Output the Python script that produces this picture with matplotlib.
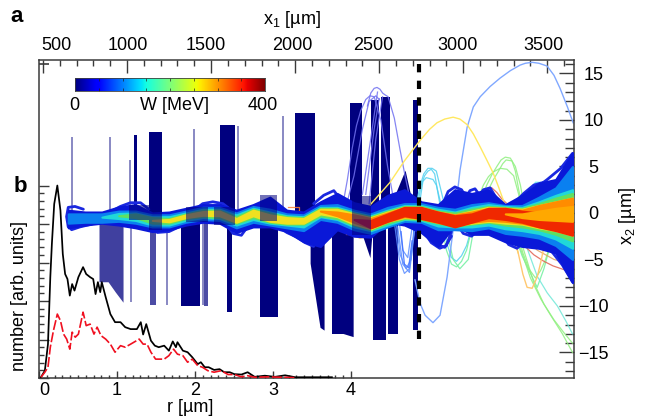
import numpy as np
import matplotlib
matplotlib.use('Agg')
import matplotlib.pyplot as plt
from matplotlib.ticker import FixedLocator

plt.rcParams['font.family'] = ['Liberation Sans', 'DejaVu Sans']
plt.rcParams['mathtext.default'] = 'regular'

nan = float('nan')

# spectrum panel b
r_black = [.025, .075, .115, .145, .165, .195, .235, .275, .305, .335, .365, .395, .425, .455, .505, .565, .605, .655, .695, .725, .755, .785, .805, .855, .915, .975, 1.045, 1.105, 1.175, 1.255, 1.305, 1.335, 1.375, 1.435, 1.485, 1.535, 1.605, 1.665, 1.715, 1.755, 1.775, 1.845, 1.905, 1.965, 2.035, 2.075, 2.125, 2.175, 2.245, 2.315, 2.375, 2.445, 2.505, 2.595, 2.675, 2.765, 2.895, 3.025, 3.155, 3.285, 3.755]
n_black = [.02, .19, .88, 2.62, 3.48, 4.52, 5.0, 4.35, 3.22, 2.70, 2.57, 2.14, 2.44, 2.27, 2.62, 2.88, 2.70, 2.62, 2.57, 2.18, 2.49, 2.23, 2.49, 2.10, 1.66, 1.45, 1.45, 1.32, 1.27, 1.27, 1.45, 1.13, 1.40, .97, .84, .80, .84, .71, .95, .80, .93, .71, .67, .54, .36, .41, .28, .28, .21, .23, .15, .15, .10, .09, .15, .03, .06, .03, .07, .02, .02]
r_red = [.025, .075, .115, .145, .185, .235, .275, .315, .355, .395, .425, .465, .505, .565, .605, .655, .705, .745, .795, .855, .915, .975, 1.045, 1.105, 1.175, 1.285, 1.335, 1.385, 1.435, 1.495, 1.605, 1.665, 1.725, 1.775, 1.845, 1.905, 1.965, 2.035, 2.095, 2.165, 2.245, 2.335, 2.425, 2.505, 2.595, 2.675, 2.765, 2.935, 3.285]
n_red = [.02, .15, .28, .80, 1.23, 1.66, 1.49, 1.14, 1.01, .75, 1.19, 1.06, 1.14, 1.71, 1.36, 1.40, 1.14, 1.32, 1.10, 1.01, .88, .67, .84, .80, .88, 1.01, .88, .88, .67, .49, .49, .58, .75, .62, .58, .41, .49, .32, .28, .19, .15, .19, .09, .09, .03, .06, .02, .03, .01]

# low energy electrons that leave the bundle: dark blocks
solid_left = [1041, 1131, 1553, 1999, 2327, 2452, 2511, 2702, 1321, 1595, 1791, 2220, 2463, 2553]
solid_right = [1060, 1208, 1642, 2118, 2398, 2499, 2565, 2731, 1434, 1625, 1898, 2345, 2541, 2612]
solid_top = [8.4, 8.7, 9.5, 10.8, 11.8, 12.2, 12.5, 12.2, 0, 0, 0, 0, 0, 0]
solid_bottom = [0, 0, 0, 0, 0, 0, 0, -12.6, -10, -10.6, -11.2, -13, -13.7, -13]

haze_left = [1137, 1460]
haze_right = [1172, 1480]
haze_bottom = [-9.9, -10]

wedge_x = [833, 887, 930, 976]
wedge_low = [-7.4, -7.4, -8.5, -9.6]

faint_x = [673, 899, 1018, 1398, 1928, 1660, 1025, 1238, 1452, 1610, 2290]
faint_top = [8.2, 8.2, 5.7, 9.0, 10.4, 9.4, 0, 0, 0, 0, 0]
faint_bottom = [0, 0, 0, 0, 0, 0, -9.6, -9.9, -9.9, -10.6, -1]

slant_x = [2089, 2148, 2172]
slant_low = [-5.4, -12.3, -12.6]
block_x = [2220, 2345]
block_low = [-12.6, -13.3]
tri_low_x = [2374, 2445, 2463]
tri_low = [-1, -4.8, -1]
tri_up_x = [2583, 2654, 2696]
tri_up = [1.5, 4.6, 1.2]

knot_left = [1010, 1130, 1350, 1520, 1790, 2340]
knot_right = [1130, 1210, 1480, 1640, 1890, 2450]
knot_top = [.9, .6, .6, .6, 1.9, 1.8]
knot_bottom = [-.8, -1.8, -1, -1.3, -.9, -2.4]

# beam bundle, edges of each energy band along x1
x1_grid = [650, 750, 850, 950, 1050, 1150, 1250, 1350, 1450, 1550, 1650, 1750, 1850, 1950, 2050, 2150, 2250, 2350, 2450, 2550, 2650, 2750, 2850, 2950, 3050, 3150, 3250, 3350, 3450, 3550, 3650]
blue_top = [.3, .1, .1, .65, .9, 0, .1, .5, .9, .9, .3, .9, 1.7, .3, .1, 1.2, 2.1, 1.1, .7, 1.9, 2.5, 1.2, .9, 2.5, 2.1, 2.5, .9, 1.9, 3.2, 3.6, 6.5]
blue_low = [-1.6, -1.3, -1.1, -1.3, -1.6, -2, -1.8, -1.3, -1, -1.1, -2.1, -1.5, -1.5, -2, -3.1, -3.6, -1.8, -2.5, -2.6, -1, -1.3, -2.1, -3.6, -1.3, -2.3, -2.3, -3.1, -3.6, -3.8, -4.3, -7.5]
azure_top = [-.1, -.1, -.1, .2, .2, -.2, -.2, .2, .6, .6, 0, .7, .4, -.1, -.2, .8, .9, .3, -.1, .6, 1, 1, .6, .4, .9, 1.1, .8, .8, 1.7, 2.7, 5]
azure_low = [-1.1, -1, -1, -.9, -1.1, -1.5, -1.5, -1, -.7, -.8, -1.6, -1, -1.3, -1.6, -1.9, -.7, -1, -1.8, -2.2, -1.5, -.9, -1, -1.8, -1.8, -1.9, -1.6, -2.2, -2.4, -2.7, -3.5, -5]
cyan_top = [nan, nan, -.45, -.05, 0, -.4, -.4, 0, .4, .4, -.2, .5, .1, -.3, -.4, .6, .6, .1, -.3, .3, .8, .8, .4, .1, .6, .9, .7, .6, 1.2, 1.9, 2.5]
cyan_low = [nan, nan, -.45, -.6, -.8, -1.3, -1.3, -.8, -.5, -.6, -1.3, -.7, -1.1, -1.3, -1.5, -.4, -.7, -1.5, -1.9, -1.3, -.7, -.8, -1.4, -1.5, -1.5, -1.3, -1.7, -1.9, -2.2, -2.8, -3.8]
green_top = [nan, nan, nan, -.3, -.1, -.5, -.6, -.1, .3, .3, -.4, .4, 0, -.4, -.5, .5, .5, 0, -.4, .2, .7, .7, .2, 0, .4, .7, .6, .5, 1, 1.6, 2.1]
green_low = [nan, nan, nan, -.3, -.5, -1.1, -1.1, -.6, -.4, -.5, -1.1, -.5, -1, -1.2, -1.2, -.3, -.6, -1.3, -1.8, -1.1, -.6, -.7, -1.1, -1.4, -1.2, -1, -1.3, -1.5, -1.8, -2.3, -3]
yellow_top = [nan, nan, nan, nan, nan, -.8, -.7, -.2, .15, .2, -.6, .3, -.2, -.5, -.6, .4, .4, -.1, -.5, .1, .6, .6, .1, -.2, .2, .6, .5, .4, .8, 1.2, 1.6]
yellow_low = [nan, nan, nan, nan, nan, -.8, -.95, -.5, -.25, -.3, -1, -.3, -.9, -1.1, -1.1, -.1, -.4, -1.2, -1.7, -.9, -.5, -.6, -1, -1.3, -1.1, -.9, -1.1, -1.2, -1.6, -1.9, -2.4]
orange_top = [nan, nan, nan, nan, nan, nan, nan, nan, nan, nan, nan, nan, nan, nan, nan, .2, .1, -.2, -.6, 0, .6, .55, .1, -.2, .1, .5, .5, .3, .8, 1.2, 1.6]
orange_low = [nan, nan, nan, nan, nan, nan, nan, nan, nan, nan, nan, nan, nan, nan, nan, .2, -.3, -1, -1.6, -.9, -.4, -.6, -1, -1.3, -1, -.8, -.9, -1.1, -1.5, -1.7, -2.3]
red_top = [nan, nan, nan, nan, nan, nan, nan, nan, nan, nan, nan, nan, nan, nan, nan, nan, nan, -.7, -.8, -.1, .6, .6, .1, -.3, -.1, .5, .5, .2, 0, -.2, -.4]
red_low = [nan, nan, nan, nan, nan, nan, nan, nan, nan, nan, nan, nan, nan, nan, nan, nan, nan, -.7, -1.6, -.9, -.3, -.6, -1, -1.5, -1, -.5, -.7, -1, -1.5, -1.9, -2.4]
amber_top = [nan, nan, nan, nan, nan, nan, nan, nan, nan, nan, nan, nan, nan, nan, nan, nan, nan, nan, nan, nan, nan, nan, nan, nan, nan, nan, -.1, -.1, .2, .5, .7]
amber_low = [nan, nan, nan, nan, nan, nan, nan, nan, nan, nan, nan, nan, nan, nan, nan, nan, nan, nan, nan, nan, nan, nan, nan, nan, nan, nan, -.1, -.5, -.7, -.8, -.9]

# single trajectories, colour then x1 and x2 values
big_arch_x = [2713, 2743, 2773, 2820, 2862, 2904, 2940, 2981, 3023, 3060, 3101, 3160, 3219, 3280, 3338, 3370, 3410, 3450, 3499, 3540, 3576, 3620, 3654]
big_arch_y = [-7.2, -9.7, -11, -11.8, -11, -6.9, -1.8, 4.6, 9.2, 11.4, 12.5, 13.6, 14.5, 15.3, 15.9, 16.1, 16.2, 16.1, 15.8, 14.8, 13.4, 11.4, 9.7]
yellow_arc_x = [2428, 2565, 2650, 2743, 2800, 2844, 2890, 2940, 2980, 3023, 3060, 3101, 3140, 3178, 3210, 3238, 3279, 3327]
yellow_arc_y = [.5, 3.3, 5.6, 7.8, 9, 9.7, 10.1, 10.3, 10.1, 9.5, 8.5, 7.1, 5.7, 4.3, 2.8, 1.4, -1.3, -4.3]
amber_arc_x = [3279, 3327, 3355, 3380, 3410, 3440, 3465, 3488]
amber_arc_y = [-1.3, -4.3, -6.6, -8, -8.1, -6.9, -5, -2.9]

thin_curves = [
    ('#7070f0', [2280, 2310, 2340, 2365, 2390, 2420, 2445, 2470, 2510, 2550, 2590], [.5, 3.5, 7, 9.4, 11, 12.2, 12.6, 12.5, 10, 5, 1]),
    ('#7070f0', [2430, 2450, 2470, 2487, 2505, 2520, 2535, 2553, 2590, 2624, 2655, 2684], [11.5, 12.9, 13.4, 13.5, 13.3, 12.9, 12.7, 12.5, 10.2, 6.8, 3.9, 1.4]),
    ('#7070f0', [2300, 2350, 2400, 2440, 2480, 2500], [.5, 4, 9, 12, 12.6, 12.2]),
    ('#7070f0', [2400, 2450, 2490], [2, 8, 13]),
    ('#7070f0', [2420, 2470, 2500], [2, 9, 12.3]),
    ('#7070f0', [2440, 2480, 2520], [1, 8, 12.5]),
    ('#5a8cff', [2590, 2620, 2650, 2680, 2700, 2720], [-1, -5, -6.5, -6, -3, -1]),
    ('#5a8cff', [2600, 2625, 2660, 2690, 2710], [-1, -4.5, -6, -5, -1]),
    ('#5a8cff', [2620, 2640, 2670, 2700], [-1, -4, -4.8, -1]),
    ('#5a8cff', [2610, 2640, 2680, 2710], [-1.5, -5.5, -6.4, -2]),
    ('#3a6cff', [2630, 2650, 2675, 2695], [-2, -5.5, -5.9, -3]),
    ('#50d0f0', [2720, 2745, 2765, 2790, 2815, 2840, 2860, 2900], [1, 3, 4.2, 4.8, 4.8, 4.5, 3, 0]),
    ('#50d0f0', [2730, 2750, 2770, 2790, 2810, 2830, 2870], [1, 3, 4, 4.5, 4.7, 4.2, 0]),
    ('#50d0f0', [2740, 2760, 2780, 2800, 2820, 2840, 2880], [1, 3.4, 3.8, 3.7, 3.6, 3, 0]),
    ('#6aa0ff', [2920, 2950, 2990, 3030], [1, 2.3, 1.5, .5]),
    ('#50d0f0', [2880, 2905, 2930, 2960, 2990, 3020, 3060], [-1, -3.4, -4.8, -5.2, -4.6, -3.5, -1]),
    ('#70f0a0', [2870, 2900, 2930, 2960, 2990, 3020, 3060], [-1, -4, -5.5, -5.8, -5.2, -4, -1]),
    ('#70f0a0', [2900, 2920, 2940, 2980, 3030, 3080], [-1, -3.4, -5, -6, -5, 0]),
    ('#90f080', [3080, 3110, 3140, 3170, 3200, 3225, 3250, 3280, 3310, 3340, 3370], [0, 1.6, 3, 4.1, 5, 5.7, 6, 5.9, 5, 3, 0]),
    ('#90f080', [3090, 3120, 3150, 3180, 3210, 3235, 3255, 3290, 3310, 3330, 3360], [0, 1.3, 2.5, 3.6, 4.5, 5.3, 5.7, 5.6, 4.5, 2.5, 0]),
    ('#90f080', [3060, 3090, 3120, 3150, 3178, 3220, 3260, 3300, 3330, 3350], [0, 1.6, 3, 3.9, 4.4, 4.8, 4.7, 4, 2, 0]),
    ('#70f0a0', [3300, 3350, 3400, 3440, 3480, 3510, 3540], [-2, -4.6, -6.5, -8, -6, -4, -2]),
    ('#90f080', [3320, 3355, 3390, 3430, 3460, 3490, 3550], [-2, -4.3, -6, -7, -6.2, -5, -1.5]),
    ('#90f080', [3290, 3340, 3400, 3460, 3520, 3590, 3650], [-1, -3.8, -7, -9.2, -11, -13, -15]),
    ('#90f080', [3310, 3360, 3420, 3480, 3540, 3600, 3650], [-1, -4, -7.5, -9.8, -11.5, -12.9, -14]),
    ('#70e8d8', [3330, 3380, 3440, 3500, 3560, 3610, 3650], [-1, -3.8, -6.8, -8.6, -10, -11.6, -13]),
    ('#60e8f0', [3380, 3405, 3430, 3460, 3490, 3540], [1, 2.6, 3.3, 3.3, 3, 2.5]),
    ('#e06050', [3338, 3380, 3420, 3480, 3535, 3600, 3654], [-2.9, -3.8, -4.5, -5.2, -5.7, -6.1, -6.2]),
    ('#e0a060', [3360, 3440, 3540, 3640], [-2.5, -4, -5, -5.5]),
    ('#e06050', [3080, 3110, 3140, 3170, 3200, 3230, 3290], [1, 2, 2.6, 2.7, 2.2, 1.5, .5]),
    ('#d89040', [2290, 2320, 2350, 2385, 2420, 2450, 2480, 2530], [-1.6, -2.2, -2.5, -2.7, -2.6, -2.3, -1.8, -.6]),
    ('#d89040', [2000, 2030, 2060, 2090, 2120, 2150, 2170], [-1, -1.9, -2.4, -2.7, -2.6, -1.9, -1]),
    ('#ff8030', [1960, 2020, 2020, 1960], [.6, .6, .2, .2]),
    ('#ff8030', [2300, 2350, 2350, 2300], [-1.9, -1.9, -2.3, -2.3]),
]

# rounded lobes of slow electrons hanging off the bundle
lobes = [
    ([650, 640, 650, 690, 740], [-1.5, -.4, .6, .7, .4]),
    ([650, 670, 720, 790], [-1.4, -1.8, -1.5, -1.2]),
    ([900, 960, 1020, 1080, 1130], [.1, .7, 1.1, 1.1, .4]),
    ([1130, 1180, 1250, 1320], [-1.5, -2.1, -2, -1.4]),
    ([1400, 1450, 1510, 1570, 1620], [.3, 1, 1.2, 1, .3]),
    ([1590, 1630, 1680, 1720], [-1.2, -2.2, -2.4, -1.4]),
    ([1900, 1950, 2010, 2060, 2110], [-1.4, -2.1, -2.6, -3.2, -3.6]),
    ([2110, 2170, 2230, 2290], [1, 1.9, 2.4, 1]),
    ([2820, 2850, 2890, 2930], [-2.3, -3.4, -3.7, -2.5]),
    ([2780, 2810, 2860, 2900, 2930], [-2.4, -3.2, -3.8, -3.5, -2]),
    ([2880, 2910, 2950, 2990, 3030], [1, 2.3, 2.8, 2.5, 1.3]),
    ([3010, 3040, 3070, 3110], [1.5, 2.4, 2.6, 1.6]),
    ([3080, 3120, 3160, 3200], [1.5, 2.5, 2.7, 1.5]),
    ([2970, 3000, 3050, 3100], [-1.4, -2.2, -2.5, -1.6]),
    ([3140, 3190, 3230, 3270], [-1.5, -2.4, -2.7, -1.8]),
    ([3230, 3270, 3320, 3370], [-2.3, -3.4, -3.8, -3]),
    ([3300, 3360, 3420, 3480], [1, 2.1, 3, 3.3]),
    ([3420, 3500, 3580, 3650], [2.5, 3.6, 4.8, 6.4]),
    ([3450, 3520, 3590, 3650], [-3.5, -4, -5.6, -7.4]),
]
# rays of faster electrons fanning out at the right edge
rays = [
    ([3350, 3460, 3560, 3650], [.8, 1.8, 3.2, 5.8]),
    ([3370, 3470, 3570, 3650], [1, 2.2, 3.6, 5.2]),
    ([3400, 3500, 3590, 3650], [.6, 1.7, 3.2, 4.6]),
    ([3380, 3490, 3580, 3650], [-1.8, -3, -4.2, -6.3]),
    ([3400, 3500, 3590, 3650], [-2, -3.2, -4.8, -5.6]),
]

x1_major = [500, 1000, 1500, 2000, 2500, 3000, 3500]
x1_minor = [600, 700, 800, 900, 1100, 1200, 1300, 1400, 1600, 1700, 1800, 1900, 2100, 2200, 2300, 2400, 2600, 2700, 2800, 2900, 3100, 3200, 3300, 3400, 3600]
x1_label_px = [56, 128, 206, 292, 373, 458, 543]
x2_major = [-15, -10, -5, 0, 5, 10, 15]
x2_minor = [-17, -16, -14, -13, -12, -11, -9, -8, -7, -6, -4, -3, -2, -1, 1, 2, 3, 4, 6, 7, 8, 9, 11, 12, 13, 14, 16]
r_major = [0, 1, 2, 3, 4]
r_minor = [.1, .2, .3, .4, .5, .6, .7, .8, .9, 1.1, 1.2, 1.3, 1.4, 1.5, 1.6, 1.7, 1.8, 1.9, 2.1, 2.2, 2.3, 2.4, 2.5, 2.6, 2.7, 2.8, 2.9, 3.1, 3.2, 3.3, 3.4, 3.5, 3.6, 3.7, 3.8, 3.9]
n_major = [0, 1, 2, 3, 4, 5]
n_minor = [.2, .4, .6, .8, 1.2, 1.4, 1.6, 1.8, 2.2, 2.4, 2.6, 2.8, 3.2, 3.4, 3.6, 3.8, 4.2, 4.4, 4.6, 4.8]
dash_x1 = 2734
dash_y = [16, -14]

W, H = 646, 420
fig = plt.figure(figsize=(W / 100, H / 100), dpi=100)
pos = [39 / W, 1 - 378 / H, (574 - 39) / W, (378 - 60) / H]
navy = '#00007f'
spine_col = '#3a3a3a'

# panel a: x1, x2
ax = fig.add_axes(pos)
ax.set_xlim(476, 3659)
ax.set_ylim(-17.75, 16.45)

bar_left = np.array(solid_left)
bar_w = np.array(solid_right) - bar_left
bar_h = np.array(solid_top) - np.array(solid_bottom)
ax.bar(bar_left, bar_h, bar_w, bottom=solid_bottom, align='edge', color=navy, lw=0, zorder=1)
ax.vlines(faint_x, faint_bottom, faint_top, color=navy, alpha=0.5, lw=1.3, zorder=1)
ax.fill_between(slant_x, 0, slant_low, color=navy, lw=0, zorder=1)
ax.fill_between(block_x, 0, block_low, color=navy, lw=0, zorder=1)
ax.fill_between(tri_low_x, 0, tri_low, color=navy, lw=0, zorder=1)
ax.fill_between(tri_up_x, 0, tri_up, color=navy, lw=0, zorder=1)
ax.fill_between(wedge_x, 0, wedge_low, color=navy, alpha=0.75, lw=0, zorder=1)
hl = np.array(haze_left)
ax.bar(hl, haze_bottom, np.array(haze_right) - hl, align='edge', color=navy, alpha=0.7, lw=0, zorder=1)

for col, xs, ys in thin_curves:
    ax.plot(xs, ys, color=col, lw=0.9, alpha=0.85, zorder=2)
ax.plot(big_arch_x, big_arch_y, color='#80a8ff', lw=1, zorder=2)
ax.plot(yellow_arc_x, yellow_arc_y, color='#ffe860', lw=1, zorder=2)
ax.plot(amber_arc_x, amber_arc_y, color='#ffc870', lw=1, zorder=2)

bands = [(blue_top, blue_low, '#0a18d8'), (azure_top, azure_low, '#0a80f0'),
         (cyan_top, cyan_low, '#20d8d8'), (green_top, green_low, '#60e060'),
         (yellow_top, yellow_low, '#f0e020'), (orange_top, orange_low, '#ff8c00'),
         (red_top, red_low, '#f02800'), (amber_top, amber_low, '#ffa800')]
for top, low, col in bands:
    ax.fill_between(x1_grid, top, low, facecolor=col, edgecolor=col, lw=1.5, joinstyle='round', zorder=3)

for xs, ys in lobes:
    ax.plot(xs, ys, color='#1a28e0', lw=2, solid_joinstyle='round', solid_capstyle='round', zorder=2.5)
for xs, ys in rays:
    ax.plot(xs, ys, color='#2090f0', lw=1.2, zorder=2.5)

kl = np.array(knot_left)
ax.bar(kl, np.array(knot_top) - np.array(knot_bottom), np.array(knot_right) - kl, bottom=knot_bottom,
       align='edge', color=navy, alpha=0.55, lw=0, zorder=3.5)

ax.plot([dash_x1, dash_x1], dash_y, color='black', lw=3, dashes=(2, 2), zorder=5)
ax.plot(476, 16, marker=1, ms=7, mew=1.2, color=spine_col, clip_on=False, zorder=7)

ax.xaxis.tick_top()
ax.yaxis.tick_right()
ax.xaxis.set_major_locator(FixedLocator(x1_major))
ax.xaxis.set_minor_locator(FixedLocator(x1_minor))
ax.yaxis.set_major_locator(FixedLocator(x2_major))
ax.yaxis.set_minor_locator(FixedLocator(x2_minor))
ax.tick_params(axis='x', which='major', direction='in', length=9, width=1, color=spine_col, labeltop=False)
ax.tick_params(axis='x', which='minor', direction='in', length=4.5, width=1, color=spine_col)
ax.tick_params(axis='y', which='major', direction='in', length=11, width=1, color=spine_col, labelsize=13, pad=14)
ax.tick_params(axis='y', which='minor', direction='in', length=6.5, width=1, color=spine_col)
for lab in ax.get_yticklabels():
    lab.set_ha('center')
for sp in ax.spines.values():
    sp.set_color(spine_col)
    sp.set_linewidth(1.1)

# panel b: r, number
axb = fig.add_axes(pos, facecolor='none')
axb.set_xlim(0, 6.859)
axb.set_ylim(0, 8.26)
axb.plot(r_black, n_black, color='black', lw=1.25, zorder=6)
axb.plot(r_red, n_red, color='#f01020', lw=1.2, dashes=(6, 1.5), zorder=6)
axb.xaxis.set_major_locator(FixedLocator(r_major))
axb.xaxis.set_minor_locator(FixedLocator(r_minor))
axb.yaxis.set_major_locator(FixedLocator(n_major))
axb.yaxis.set_minor_locator(FixedLocator(n_minor))
axb.set_yticklabels([])
axb.tick_params(axis='x', which='major', direction='in', length=5, width=1, color=spine_col, labelsize=13, pad=3)
axb.tick_params(axis='x', which='minor', direction='in', length=2, width=1, color=spine_col)
axb.tick_params(axis='y', which='major', direction='in', length=7, width=1, color=spine_col)
axb.tick_params(axis='y', which='minor', direction='in', length=3.5, width=1, color=spine_col)
axb.get_xticklabels()[0].set_ha('left')
for sp in axb.spines.values():
    sp.set_visible(False)

# colour bar
cax = fig.add_axes([75 / W, 1 - 91 / H, 190 / W, 13 / H])
cax.imshow(np.linspace(0, 400, 256)[None, :], cmap='jet', aspect='auto', extent=[0, 400, 0, 1])
cb_ticks = [50, 100, 150, 200, 250, 300, 350]
cax.set_xticks(cb_ticks)
cax.set_yticks([])
cax.tick_params(axis='x', direction='in', length=2, width=0.5, color='#222222', labelbottom=False, top=True)
for sp in cax.spines.values():
    sp.set_color('#404040')
    sp.set_linewidth(0.6)


def put(px, py, s, **kw):
    fig.text(px / W, 1 - py / H, s, ha='center', va='center', **kw)


for px, val in zip(x1_label_px, x1_major):
    put(px, 45, str(val), fontsize=13)
put(74, 105.5, '0', fontsize=13)
put(175, 105.5, 'W [MeV]', fontsize=13)
put(263, 105.5, '400', fontsize=13)
put(17, 17, 'a', fontsize=16, fontweight='bold')
put(20, 187, 'b', fontsize=16, fontweight='bold')
put(292, 19, 'x$_1$ [µm]', fontsize=13)
put(190, 408, 'r [µm]', fontsize=13)
put(20, 296, 'number [arb. units]', fontsize=13, rotation=90)
put(628, 216, 'x$_2$ [µm]', fontsize=13, rotation=90)

fig.savefig('out.png', dpi=100)
